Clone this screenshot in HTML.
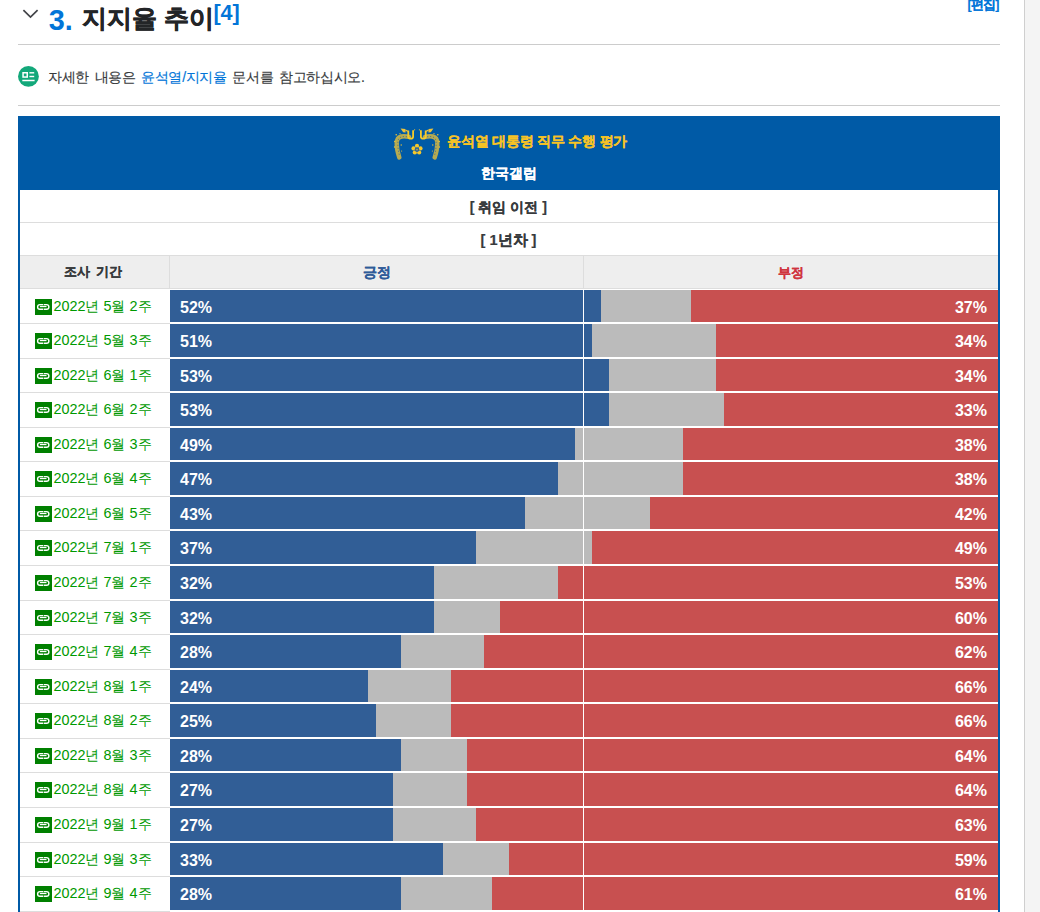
<!DOCTYPE html>
<html lang="ko"><head><meta charset="utf-8"><style>
*{box-sizing:border-box}
html,body{margin:0;padding:0}
body{width:1040px;height:912px;overflow:hidden;background:#fff;position:relative;font-family:"Liberation Sans",sans-serif;color:#373a3c}
.abs{position:absolute}
.t{position:absolute;white-space:nowrap;line-height:1}
#sb{position:absolute;left:1024px;top:0;width:16px;height:912px;background:#f4f4f4;border-left:1px solid #cfcfcf}
.hr{position:absolute;left:18px;width:982px;height:1px;background:#ccc}
#info a{color:#0275d8;text-decoration:none}
#tbl{position:absolute;left:18px;top:116px;width:982px;height:800px;border:2px solid #005aa6;border-bottom:none;background:#fff}
#cap{position:absolute;left:18px;top:116px;width:982px;height:74px;background:#005aa6}
.hl{position:absolute;height:1px;background:#ddd}
.bar{position:absolute;left:170px;width:828px}
.bar div{position:absolute;top:0;height:100%}
.b{left:0;background:#315e96}
.g{background:#bbbbbb}
.r{background:#c85050}
.pl,.pr{position:absolute;line-height:1;color:#fff;font-weight:bold;font-size:16px;}
.pl{left:10px}
.pr{right:11px}
.sep{position:absolute;left:20px;width:150px;height:1px;background:#ddd}
.lab{position:absolute;left:19px;width:149px;text-align:center;color:#009900;font-size:14.4px;white-space:nowrap;line-height:16px;letter-spacing:0px}
.lt{vertical-align:top;position:relative;top:-1.5px}
.lk{display:inline-block;width:17px;height:16px;background:#008000;vertical-align:top;margin-right:1px;letter-spacing:0}
.lk svg{display:block}
</style></head><body>
<div id="sb"></div>
<svg class="abs" style="left:22px;top:9px" width="17" height="10" viewBox="0 0 17 10"><polyline points="1.4,1.2 8.5,8.1 15.6,1.2" fill="none" stroke="#424448" stroke-width="1.7"/></svg>
<div class="t" id="h2num" style="left:48.75px;top:6.1px;font-size:28.8px;font-weight:bold;color:#0275d8">3.</div>
<div class="t" id="h2txt" style="left:81.5px;top:6.2px;font-size:25px;letter-spacing:0.2px;-webkit-text-stroke:0.5px currentColor;font-weight:bold;color:#232527">지지율 추이</div>
<div class="t" id="sup" style="left:213.4px;top:2.1px;font-size:21.6px;font-weight:bold;color:#0275d8">[4]</div>
<div class="t" id="edit" style="left:967.5px;top:-1.5px;font-size:12.5px;letter-spacing:-0.8px;-webkit-text-stroke:0.15px currentColor;color:#0275d8;font-weight:bold">[편집]</div>
<div class="hr" style="top:44px"></div>
<svg id="icon" class="abs" style="left:17px;top:65px" width="23" height="23" viewBox="0 0 23 23">
<circle cx="11.45" cy="11.4" r="10.4" fill="#13a87a"/>
<rect x="6.05" y="7.75" width="4.2" height="4.3" fill="none" stroke="#fff" stroke-width="1.5"/>
<line x1="12.4" y1="7.8" x2="17.2" y2="7.8" stroke="#fff" stroke-width="1.4"/>
<line x1="12.4" y1="11.5" x2="17.2" y2="11.5" stroke="#fff" stroke-width="1.4"/>
<line x1="5.3" y1="15.5" x2="17.6" y2="15.5" stroke="#fff" stroke-width="1.5"/>
</svg>
<div class="t" id="info" style="left:48px;top:69.9px;font-size:14px;letter-spacing:-0.33px;-webkit-text-stroke:0.15px currentColor;word-spacing:2px;">자세한 내용은 <a>윤석열/지지율</a> 문서를 참고하십시오.</div>
<div class="hr" style="top:105px"></div>
<div id="tbl"></div>
<div id="cap"></div>
<svg id="emb" class="abs" style="left:392px;top:126px" width="50" height="34" viewBox="0 0 50 34">
<defs><g id="ph">
<path d="M17 10.8 C11 9.6 6.2 10 5 14.5 C4.2 19 5.2 25 7.3 31.5" fill="none" stroke="#e9c238" stroke-width="4.4" stroke-linecap="round" opacity="0.78"/>
<path d="M15 10.8 C10 10 6.5 11 6 15 C5.6 20 6.2 25 7.6 30" fill="none" stroke="#2a62a0" stroke-width="0.9" stroke-dasharray="1.2 1.8" opacity="0.8"/>
<path d="M16.3 4.6 L16.3 10.8 Q16.5 12.7 18.8 12.7 Q21.1 12.7 21.1 10.8 L21.1 4.2" fill="none" stroke="#f7cb28" stroke-width="1.8"/>
<path d="M8.6 2.4 L13.4 3 L13.6 6.6 L11.2 6.2 Z" fill="#efc33a"/>
<path d="M13.5 4 L16 5.6" stroke="#efc33a" stroke-width="1.2"/>
<circle cx="2.8" cy="15.5" r="0.8" fill="#e9c238"/><circle cx="2.6" cy="21" r="0.7" fill="#e9c238"/><circle cx="9.2" cy="19" r="0.7" fill="#e9c238"/>
<circle cx="9.6" cy="25" r="0.6" fill="#e9c238"/><circle cx="4.2" cy="8.8" r="0.8" fill="#e9c238"/><circle cx="22.6" cy="3.8" r="0.6" fill="#e9c238"/><circle cx="8" cy="7.6" r="0.6" fill="#e9c238"/>
</g></defs>
<use href="#ph"/><use href="#ph" transform="translate(50 0) scale(-1 1)"/>
<g fill="#f5c82c"><circle cx="25" cy="19.9" r="2.1"/><circle cx="28.5" cy="22.4" r="2.1"/><circle cx="27.2" cy="26.5" r="2.1"/><circle cx="22.8" cy="26.5" r="2.1"/><circle cx="21.5" cy="22.4" r="2.1"/></g>
<circle cx="25" cy="23.6" r="2.3" fill="#2a64a2"/><circle cx="25" cy="23.6" r="0.9" fill="#c8a83c"/>
</svg>
<div class="t" id="title" style="left:447.05px;top:134.75px;font-size:13.75px;letter-spacing:-0.2px;-webkit-text-stroke:0.2px currentColor;font-weight:bold;color:#f7c325">윤석열 대통령 직무 수행 평가</div>
<div class="t" id="gallup" style="left:481.0px;top:167.25px;font-size:13.69px;-webkit-text-stroke:0.2px currentColor;font-weight:bold;color:#fff">한국갤럽</div>
<div class="t" id="pre" style="left:469.75px;top:200.0px;font-size:14.2px;-webkit-text-stroke:0.2px currentColor;font-weight:bold">[ 취임 이전 ]</div>
<div class="hl" style="left:20px;width:978px;top:222px"></div>
<div class="t" id="yr1" style="left:480.5px;top:232.75px;font-size:14.58px;-webkit-text-stroke:0.2px currentColor;font-weight:bold">[ 1년차 ]</div>
<div class="hl" style="left:20px;width:978px;top:255px"></div>
<div class="abs" style="left:20px;top:256px;width:978px;height:32px;background:#eee"></div>
<div class="hl" style="left:20px;width:978px;top:288px"></div>
<div class="t" id="josa" style="left:64.25px;top:265.0px;font-size:13.43px;-webkit-text-stroke:0.2px currentColor;word-spacing:2.5px;font-weight:bold">조사 기간</div>
<div class="abs" style="left:169px;top:256px;width:1px;height:32px;background:#ddd"></div>
<div class="t" id="pos" style="left:363.0px;top:266.25px;font-size:13.59px;-webkit-text-stroke:0.2px currentColor;font-weight:bold;color:#2f5b99">긍정</div>
<div class="t" id="neg" style="left:778.0px;top:265.75px;font-size:13.48px;-webkit-text-stroke:0.2px currentColor;font-weight:bold;color:#d0343f">부정</div>
<div class="abs" style="left:583px;top:256px;width:1px;height:32px;background:#ddd"></div>
<div class="bar" style="top:290px;height:32px"><div class="b" style="width:431px"></div><div class="g" style="left:431px;width:90px"></div><div class="r" style="left:521px;width:307px"></div><span class="pl" id="pct0" style="top:10px">52%</span><span class="pr" id="pr0" style="top:10px">37%</span></div>
<div class="sep" style="top:323px"></div>
<div class="lab" id="lab0" style="top:299px"><i class="lk" id="lk0"><svg width="17" height="16" viewBox="0 0 17 16"><rect x="2.6" y="5.6" width="11.3" height="4.7" rx="2.35" fill="none" stroke="#fff" stroke-width="1.4"/><rect x="8.2" y="4.5" width="0.6" height="7" fill="#008000"/><line x1="4.9" y1="7.5" x2="11.5" y2="7.5" stroke="#fff" stroke-width="1.3"/></svg></i><span class="lt" id="lt0">2022년 5월 2주</span></div>
<div class="bar" style="top:324px;height:33px"><div class="b" style="width:422px"></div><div class="g" style="left:422px;width:124px"></div><div class="r" style="left:546px;width:282px"></div><span class="pl" style="top:10px">51%</span><span class="pr" style="top:10px">34%</span></div>
<div class="sep" style="top:358px"></div>
<div class="lab" style="top:333px"><i class="lk"><svg width="17" height="16" viewBox="0 0 17 16"><rect x="2.6" y="5.6" width="11.3" height="4.7" rx="2.35" fill="none" stroke="#fff" stroke-width="1.4"/><rect x="8.2" y="4.5" width="0.6" height="7" fill="#008000"/><line x1="4.9" y1="7.5" x2="11.5" y2="7.5" stroke="#fff" stroke-width="1.3"/></svg></i><span class="lt">2022년 5월 3주</span></div>
<div class="bar" style="top:359px;height:32px"><div class="b" style="width:439px"></div><div class="g" style="left:439px;width:107px"></div><div class="r" style="left:546px;width:282px"></div><span class="pl" style="top:10px">53%</span><span class="pr" style="top:10px">34%</span></div>
<div class="sep" style="top:392px"></div>
<div class="lab" style="top:368px"><i class="lk"><svg width="17" height="16" viewBox="0 0 17 16"><rect x="2.6" y="5.6" width="11.3" height="4.7" rx="2.35" fill="none" stroke="#fff" stroke-width="1.4"/><rect x="8.2" y="4.5" width="0.6" height="7" fill="#008000"/><line x1="4.9" y1="7.5" x2="11.5" y2="7.5" stroke="#fff" stroke-width="1.3"/></svg></i><span class="lt">2022년 6월 1주</span></div>
<div class="bar" style="top:393px;height:33px"><div class="b" style="width:439px"></div><div class="g" style="left:439px;width:115px"></div><div class="r" style="left:554px;width:274px"></div><span class="pl" style="top:10px">53%</span><span class="pr" style="top:10px">33%</span></div>
<div class="sep" style="top:427px"></div>
<div class="lab" style="top:402px"><i class="lk"><svg width="17" height="16" viewBox="0 0 17 16"><rect x="2.6" y="5.6" width="11.3" height="4.7" rx="2.35" fill="none" stroke="#fff" stroke-width="1.4"/><rect x="8.2" y="4.5" width="0.6" height="7" fill="#008000"/><line x1="4.9" y1="7.5" x2="11.5" y2="7.5" stroke="#fff" stroke-width="1.3"/></svg></i><span class="lt">2022년 6월 2주</span></div>
<div class="bar" style="top:428px;height:32px"><div class="b" style="width:405px"></div><div class="g" style="left:405px;width:108px"></div><div class="r" style="left:513px;width:315px"></div><span class="pl" style="top:10px">49%</span><span class="pr" style="top:10px">38%</span></div>
<div class="sep" style="top:461px"></div>
<div class="lab" style="top:437px"><i class="lk"><svg width="17" height="16" viewBox="0 0 17 16"><rect x="2.6" y="5.6" width="11.3" height="4.7" rx="2.35" fill="none" stroke="#fff" stroke-width="1.4"/><rect x="8.2" y="4.5" width="0.6" height="7" fill="#008000"/><line x1="4.9" y1="7.5" x2="11.5" y2="7.5" stroke="#fff" stroke-width="1.3"/></svg></i><span class="lt">2022년 6월 3주</span></div>
<div class="bar" style="top:462px;height:33px"><div class="b" style="width:388px"></div><div class="g" style="left:388px;width:125px"></div><div class="r" style="left:513px;width:315px"></div><span class="pl" style="top:10px">47%</span><span class="pr" style="top:10px">38%</span></div>
<div class="sep" style="top:496px"></div>
<div class="lab" style="top:471px"><i class="lk"><svg width="17" height="16" viewBox="0 0 17 16"><rect x="2.6" y="5.6" width="11.3" height="4.7" rx="2.35" fill="none" stroke="#fff" stroke-width="1.4"/><rect x="8.2" y="4.5" width="0.6" height="7" fill="#008000"/><line x1="4.9" y1="7.5" x2="11.5" y2="7.5" stroke="#fff" stroke-width="1.3"/></svg></i><span class="lt">2022년 6월 4주</span></div>
<div class="bar" style="top:497px;height:32px"><div class="b" style="width:355px"></div><div class="g" style="left:355px;width:125px"></div><div class="r" style="left:480px;width:348px"></div><span class="pl" style="top:10px">43%</span><span class="pr" style="top:10px">42%</span></div>
<div class="sep" style="top:530px"></div>
<div class="lab" style="top:506px"><i class="lk"><svg width="17" height="16" viewBox="0 0 17 16"><rect x="2.6" y="5.6" width="11.3" height="4.7" rx="2.35" fill="none" stroke="#fff" stroke-width="1.4"/><rect x="8.2" y="4.5" width="0.6" height="7" fill="#008000"/><line x1="4.9" y1="7.5" x2="11.5" y2="7.5" stroke="#fff" stroke-width="1.3"/></svg></i><span class="lt">2022년 6월 5주</span></div>
<div class="bar" style="top:531px;height:33px"><div class="b" style="width:306px"></div><div class="g" style="left:306px;width:116px"></div><div class="r" style="left:422px;width:406px"></div><span class="pl" style="top:10px">37%</span><span class="pr" style="top:10px">49%</span></div>
<div class="sep" style="top:565px"></div>
<div class="lab" style="top:540px"><i class="lk"><svg width="17" height="16" viewBox="0 0 17 16"><rect x="2.6" y="5.6" width="11.3" height="4.7" rx="2.35" fill="none" stroke="#fff" stroke-width="1.4"/><rect x="8.2" y="4.5" width="0.6" height="7" fill="#008000"/><line x1="4.9" y1="7.5" x2="11.5" y2="7.5" stroke="#fff" stroke-width="1.3"/></svg></i><span class="lt">2022년 7월 1주</span></div>
<div class="bar" style="top:566px;height:33px"><div class="b" style="width:264px"></div><div class="g" style="left:264px;width:124px"></div><div class="r" style="left:388px;width:440px"></div><span class="pl" style="top:10px">32%</span><span class="pr" style="top:10px">53%</span></div>
<div class="sep" style="top:600px"></div>
<div class="lab" style="top:575px"><i class="lk"><svg width="17" height="16" viewBox="0 0 17 16"><rect x="2.6" y="5.6" width="11.3" height="4.7" rx="2.35" fill="none" stroke="#fff" stroke-width="1.4"/><rect x="8.2" y="4.5" width="0.6" height="7" fill="#008000"/><line x1="4.9" y1="7.5" x2="11.5" y2="7.5" stroke="#fff" stroke-width="1.3"/></svg></i><span class="lt">2022년 7월 2주</span></div>
<div class="bar" style="top:601px;height:32px"><div class="b" style="width:264px"></div><div class="g" style="left:264px;width:66px"></div><div class="r" style="left:330px;width:498px"></div><span class="pl" style="top:10px">32%</span><span class="pr" style="top:10px">60%</span></div>
<div class="sep" style="top:634px"></div>
<div class="lab" style="top:610px"><i class="lk"><svg width="17" height="16" viewBox="0 0 17 16"><rect x="2.6" y="5.6" width="11.3" height="4.7" rx="2.35" fill="none" stroke="#fff" stroke-width="1.4"/><rect x="8.2" y="4.5" width="0.6" height="7" fill="#008000"/><line x1="4.9" y1="7.5" x2="11.5" y2="7.5" stroke="#fff" stroke-width="1.3"/></svg></i><span class="lt">2022년 7월 3주</span></div>
<div class="bar" style="top:635px;height:33px"><div class="b" style="width:231px"></div><div class="g" style="left:231px;width:83px"></div><div class="r" style="left:314px;width:514px"></div><span class="pl" style="top:10px">28%</span><span class="pr" style="top:10px">62%</span></div>
<div class="sep" style="top:669px"></div>
<div class="lab" style="top:644px"><i class="lk"><svg width="17" height="16" viewBox="0 0 17 16"><rect x="2.6" y="5.6" width="11.3" height="4.7" rx="2.35" fill="none" stroke="#fff" stroke-width="1.4"/><rect x="8.2" y="4.5" width="0.6" height="7" fill="#008000"/><line x1="4.9" y1="7.5" x2="11.5" y2="7.5" stroke="#fff" stroke-width="1.3"/></svg></i><span class="lt">2022년 7월 4주</span></div>
<div class="bar" style="top:670px;height:32px"><div class="b" style="width:198px"></div><div class="g" style="left:198px;width:83px"></div><div class="r" style="left:281px;width:547px"></div><span class="pl" style="top:10px">24%</span><span class="pr" style="top:10px">66%</span></div>
<div class="sep" style="top:703px"></div>
<div class="lab" style="top:679px"><i class="lk"><svg width="17" height="16" viewBox="0 0 17 16"><rect x="2.6" y="5.6" width="11.3" height="4.7" rx="2.35" fill="none" stroke="#fff" stroke-width="1.4"/><rect x="8.2" y="4.5" width="0.6" height="7" fill="#008000"/><line x1="4.9" y1="7.5" x2="11.5" y2="7.5" stroke="#fff" stroke-width="1.3"/></svg></i><span class="lt">2022년 8월 1주</span></div>
<div class="bar" style="top:704px;height:33px"><div class="b" style="width:206px"></div><div class="g" style="left:206px;width:75px"></div><div class="r" style="left:281px;width:547px"></div><span class="pl" style="top:10px">25%</span><span class="pr" style="top:10px">66%</span></div>
<div class="sep" style="top:738px"></div>
<div class="lab" style="top:713px"><i class="lk"><svg width="17" height="16" viewBox="0 0 17 16"><rect x="2.6" y="5.6" width="11.3" height="4.7" rx="2.35" fill="none" stroke="#fff" stroke-width="1.4"/><rect x="8.2" y="4.5" width="0.6" height="7" fill="#008000"/><line x1="4.9" y1="7.5" x2="11.5" y2="7.5" stroke="#fff" stroke-width="1.3"/></svg></i><span class="lt">2022년 8월 2주</span></div>
<div class="bar" style="top:739px;height:32px"><div class="b" style="width:231px"></div><div class="g" style="left:231px;width:66px"></div><div class="r" style="left:297px;width:531px"></div><span class="pl" style="top:10px">28%</span><span class="pr" style="top:10px">64%</span></div>
<div class="sep" style="top:772px"></div>
<div class="lab" style="top:748px"><i class="lk"><svg width="17" height="16" viewBox="0 0 17 16"><rect x="2.6" y="5.6" width="11.3" height="4.7" rx="2.35" fill="none" stroke="#fff" stroke-width="1.4"/><rect x="8.2" y="4.5" width="0.6" height="7" fill="#008000"/><line x1="4.9" y1="7.5" x2="11.5" y2="7.5" stroke="#fff" stroke-width="1.3"/></svg></i><span class="lt">2022년 8월 3주</span></div>
<div class="bar" style="top:773px;height:33px"><div class="b" style="width:223px"></div><div class="g" style="left:223px;width:74px"></div><div class="r" style="left:297px;width:531px"></div><span class="pl" style="top:10px">27%</span><span class="pr" style="top:10px">64%</span></div>
<div class="sep" style="top:807px"></div>
<div class="lab" style="top:782px"><i class="lk"><svg width="17" height="16" viewBox="0 0 17 16"><rect x="2.6" y="5.6" width="11.3" height="4.7" rx="2.35" fill="none" stroke="#fff" stroke-width="1.4"/><rect x="8.2" y="4.5" width="0.6" height="7" fill="#008000"/><line x1="4.9" y1="7.5" x2="11.5" y2="7.5" stroke="#fff" stroke-width="1.3"/></svg></i><span class="lt">2022년 8월 4주</span></div>
<div class="bar" style="top:808px;height:33px"><div class="b" style="width:223px"></div><div class="g" style="left:223px;width:83px"></div><div class="r" style="left:306px;width:522px"></div><span class="pl" style="top:10px">27%</span><span class="pr" style="top:10px">63%</span></div>
<div class="sep" style="top:842px"></div>
<div class="lab" style="top:817px"><i class="lk"><svg width="17" height="16" viewBox="0 0 17 16"><rect x="2.6" y="5.6" width="11.3" height="4.7" rx="2.35" fill="none" stroke="#fff" stroke-width="1.4"/><rect x="8.2" y="4.5" width="0.6" height="7" fill="#008000"/><line x1="4.9" y1="7.5" x2="11.5" y2="7.5" stroke="#fff" stroke-width="1.3"/></svg></i><span class="lt">2022년 9월 1주</span></div>
<div class="bar" style="top:843px;height:32px"><div class="b" style="width:273px"></div><div class="g" style="left:273px;width:66px"></div><div class="r" style="left:339px;width:489px"></div><span class="pl" style="top:10px">33%</span><span class="pr" style="top:10px">59%</span></div>
<div class="sep" style="top:876px"></div>
<div class="lab" style="top:852px"><i class="lk"><svg width="17" height="16" viewBox="0 0 17 16"><rect x="2.6" y="5.6" width="11.3" height="4.7" rx="2.35" fill="none" stroke="#fff" stroke-width="1.4"/><rect x="8.2" y="4.5" width="0.6" height="7" fill="#008000"/><line x1="4.9" y1="7.5" x2="11.5" y2="7.5" stroke="#fff" stroke-width="1.3"/></svg></i><span class="lt">2022년 9월 3주</span></div>
<div class="bar" style="top:877px;height:33px"><div class="b" style="width:231px"></div><div class="g" style="left:231px;width:91px"></div><div class="r" style="left:322px;width:506px"></div><span class="pl" style="top:10px">28%</span><span class="pr" style="top:10px">61%</span></div>
<div class="sep" style="top:911px"></div>
<div class="lab" style="top:886px"><i class="lk"><svg width="17" height="16" viewBox="0 0 17 16"><rect x="2.6" y="5.6" width="11.3" height="4.7" rx="2.35" fill="none" stroke="#fff" stroke-width="1.4"/><rect x="8.2" y="4.5" width="0.6" height="7" fill="#008000"/><line x1="4.9" y1="7.5" x2="11.5" y2="7.5" stroke="#fff" stroke-width="1.3"/></svg></i><span class="lt">2022년 9월 4주</span></div>
<div class="abs" style="left:583px;top:289px;width:1px;height:623px;background:#fff"></div>
</body></html>
